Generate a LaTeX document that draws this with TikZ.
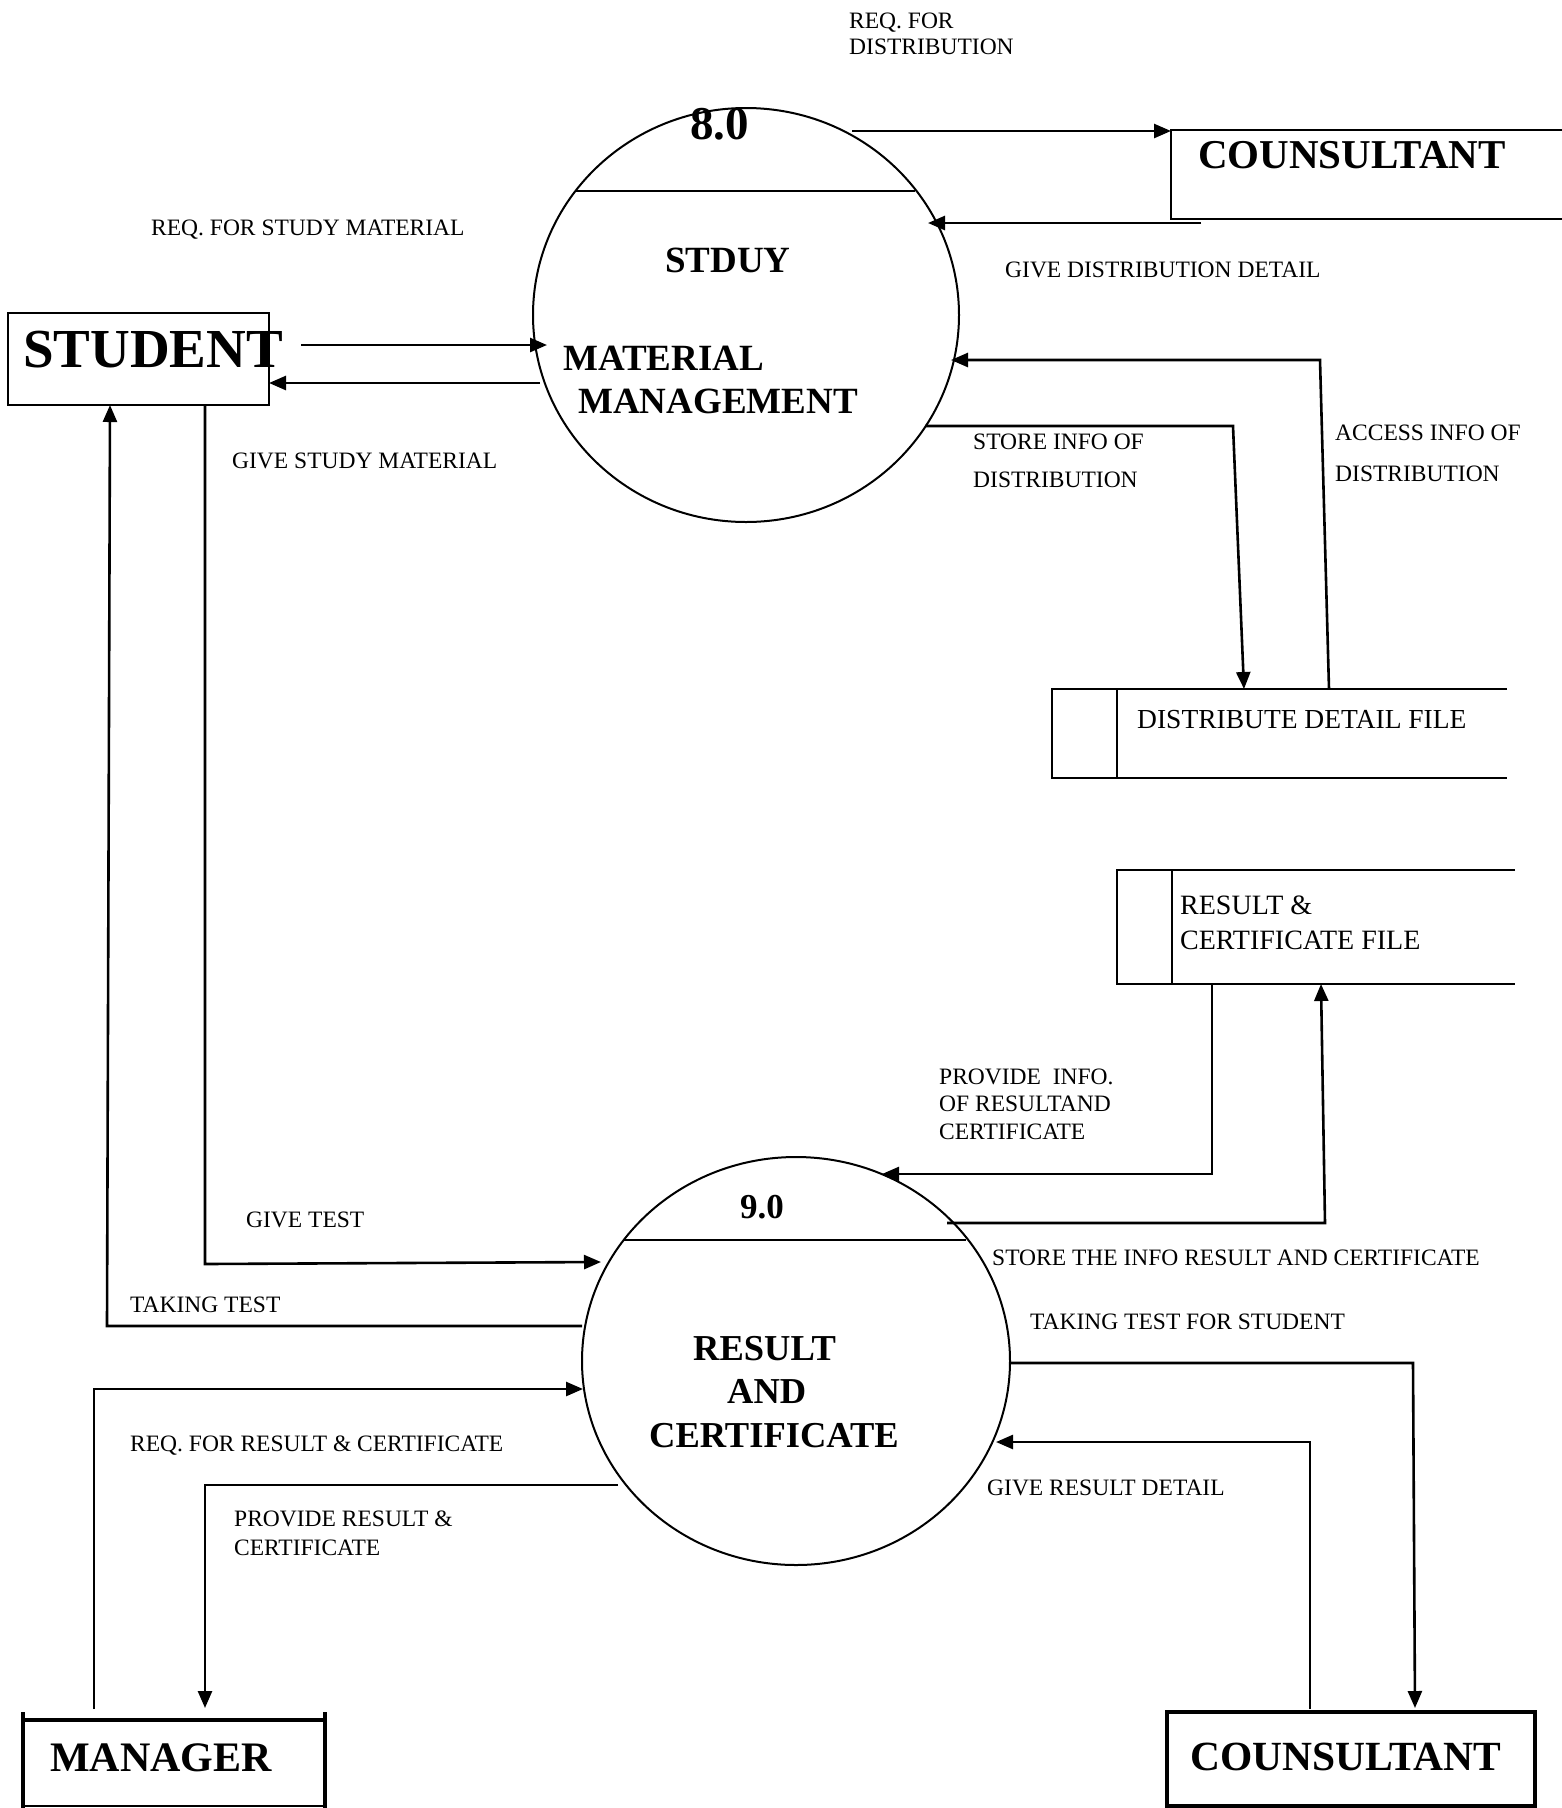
\documentclass[tikz,border=0pt]{standalone}
\usepackage{fontspec}
\setmainfont{Liberation Serif}
\usetikzlibrary{arrows.meta,shapes.geometric}
\tikzset{
  lbl/.style={anchor=base west, inner sep=0pt, font=\fontsize{23.5}{28}\selectfont},
  filelbl/.style={anchor=base west, inner sep=0pt, font=\fontsize{28}{32}\selectfont},
  bigb/.style={anchor=base west, inner sep=0pt, font=\fontsize{#1}{#1}\selectfont\bfseries},
  flow/.style={line width=2.6pt, -{Triangle[length=17pt,width=14pt]}},
  proc/.style={ellipse, draw, line width=2pt, inner sep=0pt},
  boxline/.style={line width=2.6pt, line cap=rect},
  thickbox/.style={line width=3.4pt}
}
\begin{document}
\begin{tikzpicture}[x=1pt,y=-1pt]
\useasboundingbox (0,0) rectangle (1562,1808);

% processes
\node[proc, minimum width=426pt, minimum height=414pt] (c8) at (746,315) {};
\node[proc, minimum width=428pt, minimum height=408pt] (c9) at (796,1361) {};
\coordinate (d8a) at (576,191); \coordinate (d8b) at (915,191);
\draw[line width=2.2pt] (d8a) -- (d8b);
\coordinate (d9a) at (624,1240); \coordinate (d9b) at (966,1240);
\draw[line width=2.2pt] (d9a) -- (d9b);

% STUDENT
\node[draw, line width=2.2pt, minimum width=261pt, minimum height=92pt, inner sep=0pt] (stu) at (138.5,359) {};
\node[bigb=55] (stut) at (23,367) {STUDENT};

% top COUNSULTANT (open box)
\coordinate (k1a) at (1171,130); \coordinate (k1b) at (1562,130);
\coordinate (k1c) at (1171,219); \coordinate (k1d) at (1562,219);
\draw[boxline] (k1b) -- (k1a) -- (k1c) -- (k1d);
\node[bigb=41] (k1t) at (1198,168) {COUNSULTANT};

% Distribute detail file
\coordinate (f1a) at (1507,689); \coordinate (f1b) at (1052,689);
\coordinate (f1c) at (1052,778); \coordinate (f1d) at (1507,778);
\coordinate (f1e) at (1117,689); \coordinate (f1f) at (1117,778);
\draw[line width=2.2pt] (f1a) -- (f1b) -- (f1c) -- (f1d);
\draw[line width=2.2pt] (f1e) -- (f1f);
\node[filelbl, font=\fontsize{27.5}{32}\selectfont] (f1t) at (1137,728) {DISTRIBUTE DETAIL FILE};

% Result & certificate file
\coordinate (f2a) at (1515,870); \coordinate (f2b) at (1117,870);
\coordinate (f2c) at (1117,984); \coordinate (f2d) at (1515,984);
\coordinate (f2e) at (1172,870); \coordinate (f2f) at (1172,984);
\draw[line width=2.2pt] (f2a) -- (f2b) -- (f2c) -- (f2d);
\draw[line width=2.2pt] (f2e) -- (f2f);
\node[filelbl] (f2t1) at (1180,914) {RESULT \&};
\node[filelbl] (f2t2) at (1180,949) {CERTIFICATE FILE};

% MANAGER
\coordinate (m1) at (23,1712); \coordinate (m2) at (23,1808);
\coordinate (m3) at (325,1712); \coordinate (m4) at (325,1808);
\coordinate (m5) at (25,1720); \coordinate (m6) at (325,1720);
\coordinate (m7) at (25,1806); \coordinate (m8) at (325,1806);
\draw[thickbox] (m1) -- (m2); \draw[thickbox] (m3) -- (m4);
\draw[thickbox] (m5) -- (m6); \draw[line width=2.5pt] (m7) -- (m8);
\node[bigb=42] (mant) at (50,1771) {MANAGER};

% bottom COUNSULTANT
\node[draw, thickbox, minimum width=368pt, minimum height=94pt, inner sep=0pt] (k2) at (1351,1759) {};
\node[bigb=41.5] (k2t) at (1190,1770) {COUNSULTANT};

% process texts
\node[bigb=47] (n8) at (690,139) {8.0};
\node[bigb=37] (p8a) at (665,272) {STDUY};
\node[bigb=37] (p8b) at (563,370) {MATERIAL};
\node[bigb=37] (p8c) at (578,413) {MANAGEMENT};
\node[bigb=35] (n9) at (740,1218) {9.0};
\node[bigb=36.5] (p9a) at (693,1360) {RESULT};
\node[bigb=36.5] (p9b) at (727,1403) {AND};
\node[bigb=36.5] (p9c) at (649,1447) {CERTIFICATE};

% connectors
\coordinate (s1a) at (301,345); \coordinate (s1b) at (547,345);
\draw[flow] (s1a) -- (s1b);
\coordinate (s2a) at (540,383); \coordinate (s2b) at (269,383);
\draw[flow] (s2a) -- (s2b);
\coordinate (s3a) at (852,131); \coordinate (s3b) at (1171,131);
\draw[flow] (s3a) -- (s3b);
\coordinate (s4a) at (1201,223); \coordinate (s4b) at (928,223);
\draw[flow] (s4a) -- (s4b);
\coordinate (s5a) at (925,426); \coordinate (s5b) at (1233,426); \coordinate (s5c) at (1244,689);
\draw[flow] (s5a) -- (s5b) -- (s5c);
\coordinate (s6a) at (1329,689); \coordinate (s6b) at (1320,360); \coordinate (s6c) at (951,360);
\draw[flow] (s6a) -- (s6b) -- (s6c);
\coordinate (s7a) at (205,405); \coordinate (s7b) at (205,1264); \coordinate (s7c) at (601,1262);
\draw[flow] (s7a) -- (s7b) -- (s7c);
\coordinate (s8a) at (582,1326); \coordinate (s8b) at (107,1326); \coordinate (s8c) at (110,405);
\draw[flow] (s8a) -- (s8b) -- (s8c);
\coordinate (s9a) at (1212,984); \coordinate (s9b) at (1212,1174); \coordinate (s9c) at (882,1174);
\draw[flow] (s9a) -- (s9b) -- (s9c);
\coordinate (s10a) at (947,1223); \coordinate (s10b) at (1325,1223); \coordinate (s10c) at (1321,984);
\draw[flow] (s10a) -- (s10b) -- (s10c);
\coordinate (s11a) at (1011,1363); \coordinate (s11b) at (1413,1363); \coordinate (s11c) at (1415,1708);
\draw[flow] (s11a) -- (s11b) -- (s11c);
\coordinate (s12a) at (1310,1709); \coordinate (s12b) at (1310,1442); \coordinate (s12c) at (996,1442);
\draw[flow] (s12a) -- (s12b) -- (s12c);
\coordinate (s13a) at (94,1709); \coordinate (s13b) at (94,1389); \coordinate (s13c) at (583,1389);
\draw[flow] (s13a) -- (s13b) -- (s13c);
\coordinate (s14a) at (618,1485); \coordinate (s14b) at (205,1485); \coordinate (s14c) at (205,1708);
\draw[flow] (s14a) -- (s14b) -- (s14c);

% labels
\node[lbl] (l1a) at (849,28) {REQ. FOR};
\node[lbl] (l1b) at (849,54) {DISTRIBUTION};
\node[lbl] (l2) at (151,235) {REQ. FOR STUDY MATERIAL};
\node[lbl] (l3) at (1005,277) {GIVE DISTRIBUTION DETAIL};
\node[lbl] (l4) at (232,468) {GIVE STUDY MATERIAL};
\node[lbl] (l5a) at (973,449) {STORE INFO OF};
\node[lbl] (l5b) at (973,487) {DISTRIBUTION};
\node[lbl] (l6a) at (1335,440) {ACCESS INFO OF};
\node[lbl] (l6b) at (1335,481) {DISTRIBUTION};
\node[lbl] (l7a) at (939,1084) {PROVIDE\ \ INFO.};
\node[lbl] (l7b) at (939,1111) {OF RESULTAND};
\node[lbl] (l7c) at (939,1139) {CERTIFICATE};
\node[lbl] (l8) at (246,1227) {GIVE TEST};
\node[lbl] (l9) at (992,1265) {STORE THE INFO RESULT AND CERTIFICATE};
\node[lbl] (l10) at (130,1312) {TAKING TEST};
\node[lbl] (l11) at (1030,1329) {TAKING TEST FOR STUDENT};
\node[lbl] (l12) at (130,1451) {REQ. FOR RESULT \& CERTIFICATE};
\node[lbl] (l13) at (987,1495) {GIVE RESULT DETAIL};
\node[lbl] (l14a) at (234,1526) {PROVIDE RESULT \&};
\node[lbl] (l14b) at (234,1555) {CERTIFICATE};
\end{tikzpicture}
\end{document}
